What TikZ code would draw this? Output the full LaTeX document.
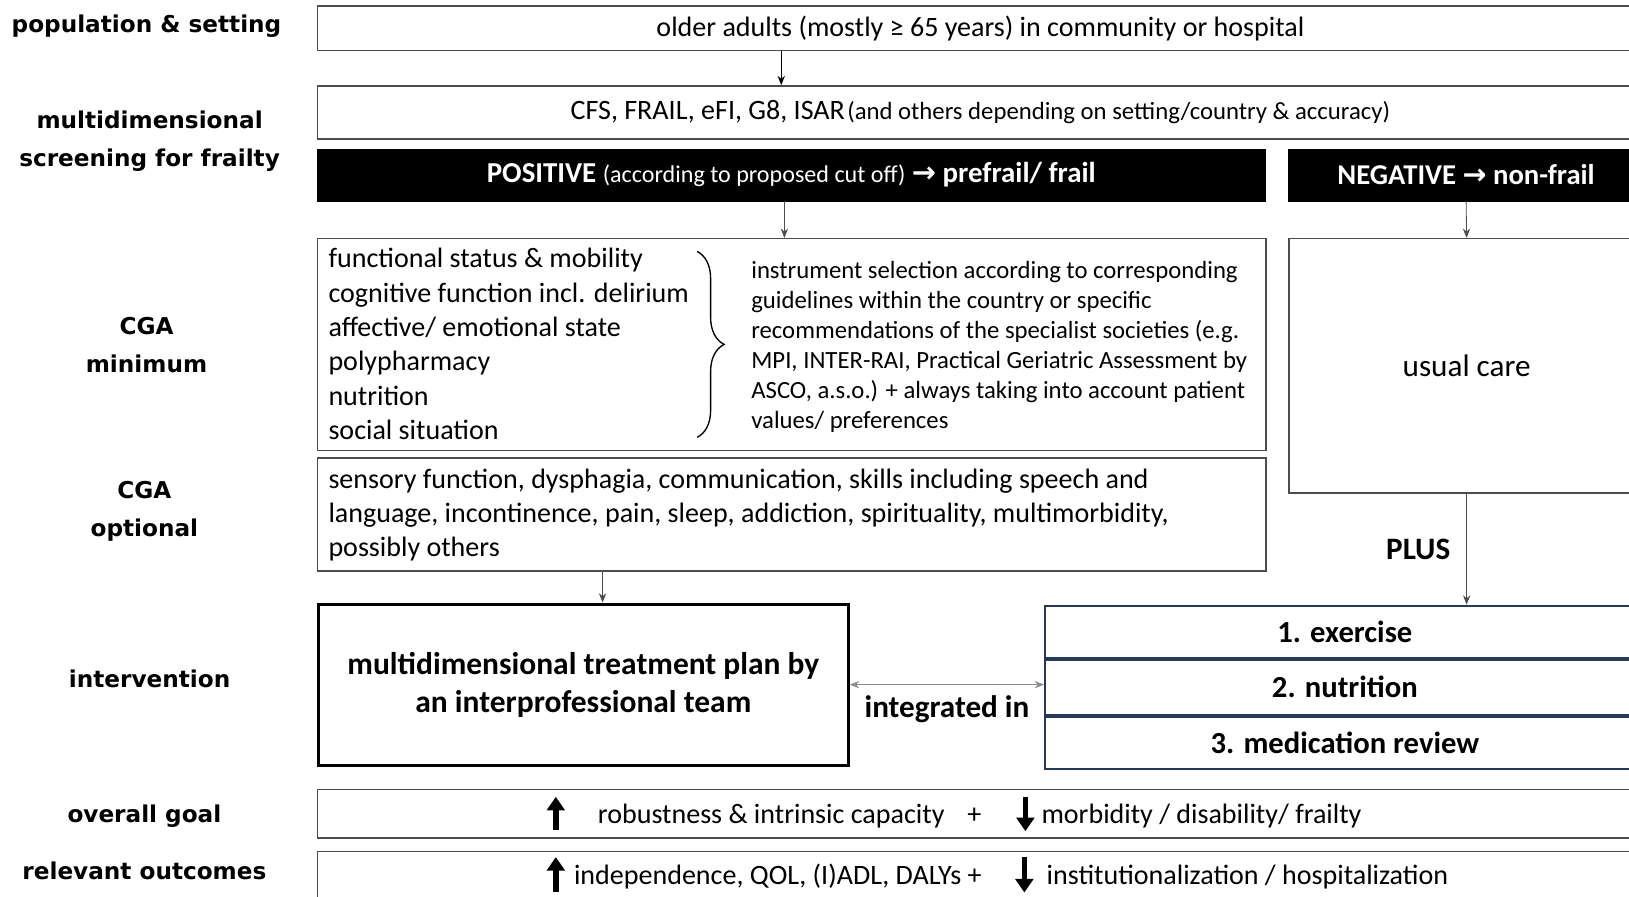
\documentclass[tikz,border=0pt]{standalone}
\usepackage{fontspec}
\setmainfont{Carlito}
\newfontfamily\lblfont{DejaVu Sans}
\newfontfamily\symfont{DejaVu Sans}
\usetikzlibrary{calc, arrows.meta, decorations.pathreplacing, positioning}
\definecolor{slate}{RGB}{38,58,88}

\begin{document}
\begin{tikzpicture}[x=1pt, y=-1pt,
		box/.style={draw=black!70, line width=1.4pt, anchor=north west, inner sep=0pt, align=center},
		blk/.style={fill=black, draw=black, text=white, anchor=north west, inner sep=0pt},
		stepbox/.style={draw=slate, line width=2pt, minimum width=577pt, inner sep=0pt,
			font=\fontsize{29.5}{33}\selectfont\bfseries},
		lbl/.style={font=\lblfont\bfseries\fontsize{22.3}{37}\selectfont, align=center},
		flow/.style={-{Stealth[length=9pt,width=7pt]}, line width=0.8pt, black!70},
		bigup/.style={-{Triangle[length=13pt,width=17pt]}, line width=5.5pt}
	]
	\useasboundingbox (0,0) rectangle (1568,863);
	\clip (0,0) rectangle (1568,863);
	
	% left column
	\node[lbl] (lpop) at (141,25) {population \& setting};
	\node[lbl] (lscr) at (144,136) {multidimensional\\screening for frailty};
	\node[lbl] (lmin) at (141,332) {CGA\\minimum};
	\node[lbl] (lopt) at (139,492) {CGA\\optional};
	\node[lbl] (lint) at (144,653) {intervention};
	\node[lbl] (lgoal) at (139,786) {overall goal};
	\node[lbl] (lout) at (139,838) {relevant outcomes};
	
	% population and screening
	\node[box, minimum width=1276pt, minimum height=43pt, font=\fontsize{27}{30}\selectfont] (pop) at (305,5)
		{older adults (mostly ≥ 65 years) in community or hospital};
	\node[box, minimum width=1276pt, minimum height=51pt] (scr) at (305,82)
		{{\fontsize{27}{30}\selectfont CFS, FRAIL, eFI, G8, ISAR} {\fontsize{23.8}{28}\selectfont(and others depending on setting/country \& accuracy)}};
	\node[blk, minimum width=913pt, minimum height=50pt, font=\fontsize{27.8}{30}\selectfont\bfseries] (pos) at (305,143)
		{POSITIVE {\mdseries\fontsize{23.2}{28}\selectfont(according to proposed cut off)} {\symfont →} prefrail/ frail};
	\node[blk, minimum width=342pt, minimum height=50pt, font=\fontsize{27.6}{30}\selectfont\bfseries] (neg) at (1240,143)
		{NEGATIVE {\symfont →} non-frail};
	
	% CGA
	\node[box, minimum width=913pt, minimum height=204pt] (cmin) at (305,229) {};
	\node[anchor=north west, align=left, inner sep=0pt, font=\fontsize{27}{33}\selectfont] (clist) at (316,239)
		{functional status \& mobility\\cognitive function incl. delirium\\affective/ emotional state\\polypharmacy\\nutrition\\social situation};
	\draw[line width=1.3pt, decorate, decoration={brace, amplitude=26pt}] (671,242) -- (671,421);
	\node[anchor=north west, align=left, inner sep=0pt, font=\fontsize{23.8}{29}\selectfont] (cinst) at (723,251)
		{instrument selection according to corresponding\\guidelines within the country or specific\\recommendations of the specialist societies (e.g.\\MPI, INTER-RAI, Practical Geriatric Assessment by\\ASCO, a.s.o.) + always taking into account patient\\values/ preferences};
	\node[box, minimum width=913pt, minimum height=109pt] (copt) at (305,440) {};
	\node[anchor=north west, align=left, inner sep=0pt, font=\fontsize{27}{33}\selectfont] (copttxt) at (316,451)
		{sensory function, dysphagia, communication, skills including speech and\\language, incontinence, pain, sleep, addiction, spirituality, multimorbidity,\\possibly others};
	\node[box, minimum width=342pt, minimum height=245pt, font=\fontsize{30}{33}\selectfont] (usual) at (1240,229) {usual care};
	
	% intervention
	\node[box, draw=black, line width=3pt, minimum width=510pt, minimum height=155pt,
		font=\fontsize{30.3}{37}\selectfont\bfseries] (plan) at (305,580)
		{multidimensional treatment plan by\\an interprofessional team};
	\node[stepbox, minimum height=50pt, anchor=north west] (ex) at (1005,582) {1. exercise};
	\node[stepbox, minimum height=53pt, below=0pt of ex] (nut) {2. nutrition};
	\node[stepbox, minimum height=50pt, below=0pt of nut] (med) {3. medication review};
	
	% goals
	\node[box, minimum width=1276pt, minimum height=47pt] (goal) at (305,759) {};
	\node[anchor=west, font=\fontsize{27}{30}\selectfont] (g1) at (572,785) {robustness \& intrinsic capacity\hspace{22pt}+};
	\node[anchor=west, font=\fontsize{27}{30}\selectfont] (g2) at (999,785) {morbidity / disability/ frailty};
	\draw[bigup] (535,799) -- (535,767);
	\draw[bigup] (987,767) -- (987,800);
	\node[box, minimum width=1276pt, minimum height=44pt] (outc) at (305,819) {};
	\node[anchor=west, font=\fontsize{27}{30}\selectfont] (o1) at (549,844) {independence, QOL, (I)ADL, DALYs +};
	\node[anchor=west, font=\fontsize{27}{30}\selectfont] (o2) at (1004,844) {institutionalization / hospitalization};
	\draw[bigup] (535,859) -- (535,825);
	\draw[bigup] (986,825) -- (986,859);
	
	% connectors
	\draw[flow, black, line width=1.2pt] ([xshift=447pt]pop.south west) -- ([xshift=447pt]scr.north west);
	\draw[flow] ([xshift=450pt]pos.south west) -- ([xshift=450pt]cmin.north west);
	\draw[flow] (neg.south) -- (usual.north);
	\draw[flow] ([xshift=275pt]copt.south west) -- ([xshift=275pt]plan.north west);
	\draw[flow] (usual.south) -- (usual.south |- ex.north)
		node[midway, left=12pt, text=black, font=\fontsize{30}{33}\selectfont\bfseries] (plus) {PLUS};
	\draw[{Stealth[length=9pt,width=7pt]}-{Stealth[length=9pt,width=7pt]}, line width=0.8pt, black!45]
		(plan.east) -- (plan.east -| nut.west)
		node[midway, below=7pt, text=black, font=\fontsize{30}{33}\selectfont\bfseries] (integ) {integrated in};
\end{tikzpicture}
\end{document}
